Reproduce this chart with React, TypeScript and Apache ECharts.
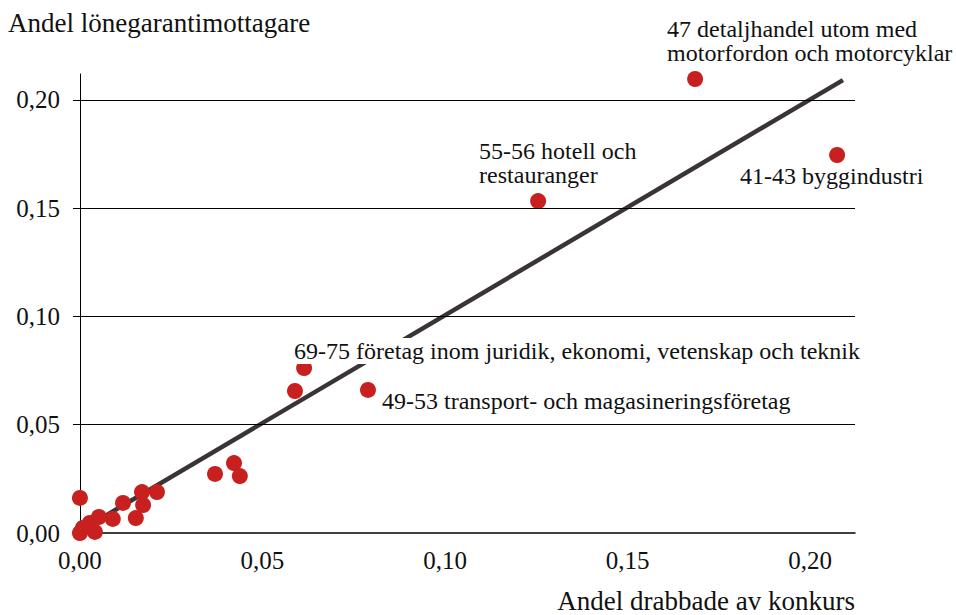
import React, { useEffect, useRef } from "react";
import * as echarts from "echarts";

// Share of bankruptcy-affected (x) vs share of wage-guarantee recipients (y)
const xValues = [
  0.0, 0.0008, 0.0027, 0.0041, 0.0052, 0.009, 0.0118, 0.0153, 0.0173, 0.017,
  0.0211, 0.0, 0.037, 0.0422, 0.0438, 0.0589, 0.0614, 0.0789, 0.1255, 0.1685,
  0.2074,
];
const yValues = [
  0.0, 0.0023, 0.0046, 0.0005, 0.0074, 0.0065, 0.0139, 0.0069, 0.0129, 0.0189,
  0.0189, 0.0162, 0.0273, 0.0323, 0.0263, 0.0656, 0.0762, 0.0661, 0.1533,
  0.2097, 0.1746,
];
const pointLabels = [
  "", "", "", "", "", "", "", "", "", "", "", "", "", "", "", "",
  "69-75 företag inom juridik, ekonomi, vetenskap och teknik",
  "49-53 transport- och magasineringsföretag",
  "55-56 hotell och\nrestauranger",
  "47 detaljhandel utom med\nmotorfordon och motorcyklar",
  "41-43 byggindustri",
];
const trendX = [0.0, 0.209];
const trendY = [0.001, 0.2092];
const gridValues = [0.05, 0.1, 0.15, 0.2];
const xTicks = [0, 0.05, 0.1, 0.15, 0.2];
const yTicks = [0, 0.05, 0.1, 0.15, 0.2];
const xTitle = "Andel drabbade av konkurs";
const yTitle = "Andel lönegarantimottagare";

// label offsets (style only)
const labelOffsets: Record<number, [number, number]> = {
  16: [-2, -22],
  17: [22, 7],
  18: [-51, -54],
  19: [-20, -54],
  20: [-89, 17],
};

const FONT = "Liberation Serif";
const fmt = (v: number) => v.toFixed(2).replace(".", ",");

export default function App() {
  const ref = useRef<HTMLDivElement>(null);
  useEffect(() => {
    if (!ref.current) return;
    const chart = echarts.init(ref.current, undefined, { renderer: "svg" });
    const scatterData = xValues.map((x, i) => {
      const item: any = { value: [x, yValues[i]] };
      if (pointLabels[i]) {
        item.label = {
          show: true,
          formatter: pointLabels[i],
          position: labelOffsets[i],
          align: "left",
          verticalAlign: "top",
          fontFamily: FONT,
          fontSize: 24,
          lineHeight: 24,
          color: "#111",
          backgroundColor: i === 16 ? "#fff" : "transparent",
          padding: i === 16 ? [1, 2, 1, 0] : 0,
        };
      }
      return item;
    });
    chart.setOption({
      animation: false,
      textStyle: { fontFamily: FONT },
      grid: { left: 73, top: 74, right: 101, bottom: 82, containLabel: false },
      xAxis: {
        type: "value",
        min: -0.0019,
        max: 0.2123,
        splitLine: { show: false },
        axisTick: { show: false },
        axisLine: { show: true, onZero: false, lineStyle: { color: "#000", width: 1.5 } },
        axisLabel: {
          customValues: xTicks,
          formatter: fmt,
          fontFamily: FONT,
          fontSize: 25,
          color: "#111",
          margin: 15,
        },
      },
      yAxis: {
        type: "value",
        min: 0,
        max: 0.212,
        splitLine: { show: false },
        axisTick: { show: false },
        axisLine: { show: true, lineStyle: { color: "#000", width: 1 } },
        axisLabel: {
          customValues: yTicks,
          formatter: fmt,
          fontFamily: FONT,
          fontSize: 25,
          color: "#111",
          margin: 13,
        },
      },
      graphic: [
        {
          type: "text",
          style: {
            x: 8,
            y: 23,
            text: yTitle,
            fontFamily: FONT,
            fontSize: 27,
            lineHeight: 26,
            fill: "#111",
            align: "left",
            verticalAlign: "middle",
          },
        },
        {
          type: "text",
          style: {
            x: 855,
            y: 601,
            text: xTitle,
            fontFamily: FONT,
            fontSize: 27,
            lineHeight: 24,
            fill: "#111",
            align: "right",
            verticalAlign: "middle",
          },
        },
      ],
      series: [
        {
          type: "line",
          z: 2,
          data: trendX.map((x, i) => [x, trendY[i]]),
          symbol: "none",
          lineStyle: { color: "#3a3434", width: 4.5 },
          markLine: {
            silent: true,
            symbol: "none",
            label: { show: false },
            lineStyle: { color: "#000", width: 1, type: "solid" },
            data: gridValues.map((v) => ({ yAxis: v })),
          },
        },
        {
          type: "scatter",
          z: 3,
          symbol: "circle",
          symbolSize: 16,
          itemStyle: { color: "#c8201e", opacity: 1 },
          data: scatterData,
        },
      ],
    });
    return () => chart.dispose();
  }, []);
  return <div ref={ref} style={{ width: 956, height: 615, position: "absolute", left: 0, top: 0 }} />;
}
